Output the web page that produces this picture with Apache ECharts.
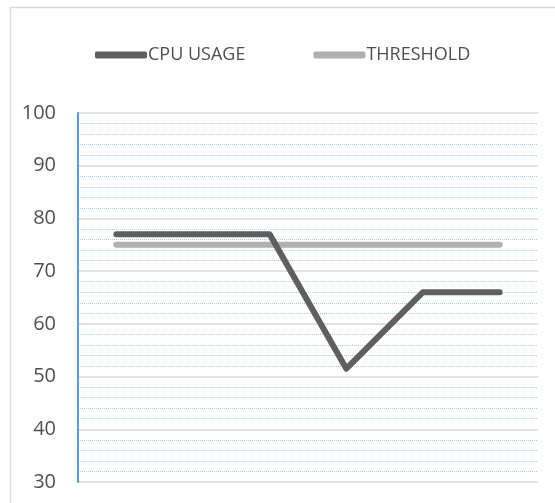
<!DOCTYPE html>
<html>
<head>
<meta charset="utf-8">
<script src="https://cdn.jsdelivr.net/npm/echarts@6/dist/echarts.min.js"></script>
<style>
  html, body { margin: 0; padding: 0; background: #fff; }
  #chart { width: 555px; height: 503px; }
</style>
</head>
<body>
<div id="chart"></div>
<script>
// Sample points along the x axis (labels are not shown)
const samples = ['T1', 'T2', 'T3', 'T4', 'T5', 'T6'];
// Measured CPU usage (%)
const cpuUsage = [77, 77, 77, 51.5, 66, 66];
// Alert threshold (%)
const threshold = [75, 75, 75, 75, 75, 75];
// Value axis range
const yMin = 30, yMax = 100, yStep = 10;

const chart = echarts.init(document.getElementById('chart'), null, { renderer: 'canvas' });

const textColor = '#505050';
const fontFamily = '"Open Sans", "Liberation Sans", Arial, sans-serif';

chart.setOption({
  animation: false,
  backgroundColor: '#ffffff',
  graphic: [{
    type: 'rect',
    shape: { x: 10.5, y: 7.5, width: 700, height: 700 },
    style: { fill: 'none', stroke: '#d9d9d9', lineWidth: 1.5 },
    silent: true,
    z: -1
  }],
  legend: {
    left: 90,
    top: 41,
    itemGap: 68,
    itemWidth: 52,
    itemHeight: 7,
    icon: 'roundRect',
    textStyle: { color: textColor, fontSize: 18, fontFamily: fontFamily, padding: [0, 0, 0, -4] },
    data: ['CPU USAGE', 'THRESHOLD']
  },
  grid: { left: 78, right: 17, top: 113, bottom: 21, containLabel: false },
  xAxis: {
    type: 'category',
    data: samples,
    boundaryGap: true,
    axisLine: { show: false },
    axisTick: { show: false },
    axisLabel: { show: false },
    splitLine: { show: false }
  },
  yAxis: {
    type: 'value',
    min: yMin,
    max: yMax,
    interval: yStep,
    axisLine: { show: true, lineStyle: { color: '#5b9bd5', width: 2 } },
    axisTick: { show: false },
    axisLabel: { color: textColor, fontSize: 20, fontFamily: fontFamily, margin: 22 },
    splitLine: { show: true, lineStyle: { color: '#d9d9d9', width: 1.5 } },
    minorTick: { show: false, splitNumber: 5 },
    minorSplitLine: { show: true, lineStyle: { color: '#a9cbeb', width: 1, type: [1, 1] } }
  },
  series: [
    {
      name: 'CPU USAGE',
      type: 'line',
      data: cpuUsage,
      symbol: 'none',
      z: 3,
      itemStyle: { color: '#5f5f5f' },
      lineStyle: { color: '#5f5f5f', width: 6, cap: 'round', join: 'round' }
    },
    {
      name: 'THRESHOLD',
      type: 'line',
      data: threshold,
      symbol: 'none',
      z: 2,
      itemStyle: { color: '#b0b0b0' },
      lineStyle: { color: '#b0b0b0', width: 6, cap: 'round', join: 'round' }
    }
  ]
});
</script>
</body>
</html>
